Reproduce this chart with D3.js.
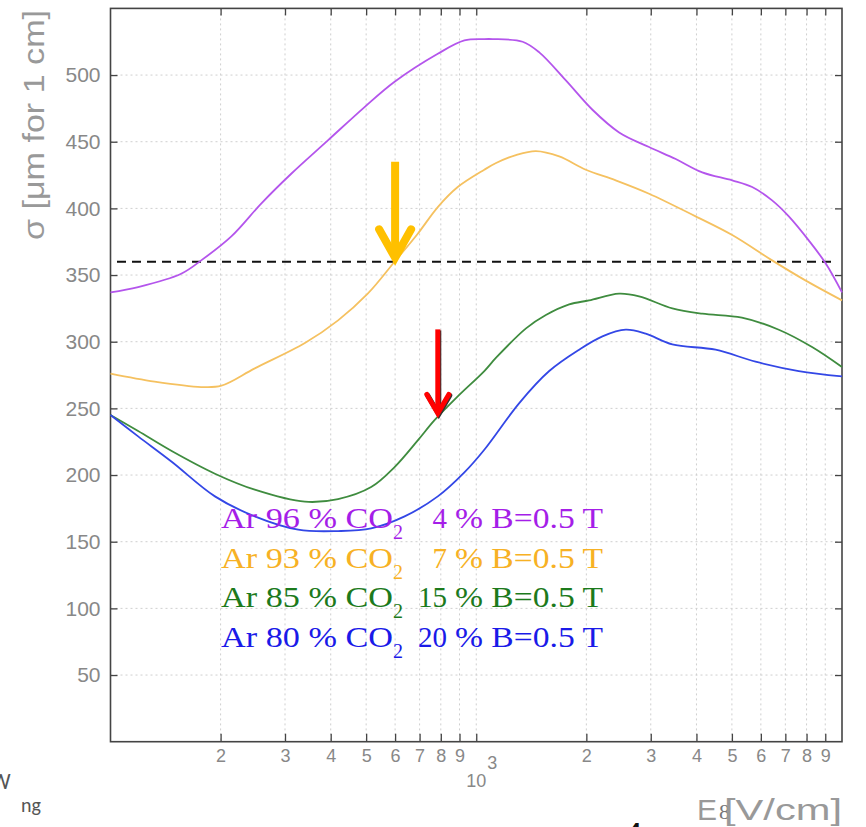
<!DOCTYPE html>
<html>
<head>
<meta charset="utf-8">
<script src="https://cdn.jsdelivr.net/npm/d3@7"></script>
<style>
body { margin: 0; background: #fff; }
svg { display: block; }
</style>
</head>
<body>
<svg width="866" height="827"></svg>
<script>
// curves: drift field E [V/cm] -> sigma [um for 1 cm]
var ar96Field = [100,119,156,177,214,259,312,393,495,598,785,928,1052,1109,1339,1487,1758,2078,2458,2968,3511,4148,5010,5680,6440,7154,8110,9010,10000]
var ar96Sigma = [337,341,351,361,379,404,426,451,476,495,516,526,527,527,525,517,496,474,457,446,437,427,421,416,406,394,376,359,337]

var ar93Field = [100,132,177,201,248,340,419,505,598,692,785,890,1052,1133,1284,1456,1686,1994,2407,2968,3980,5010,6440,7940,10000]
var ar93Sigma = [276,270,266,267,280,299,316,336,360,381,401,416,429,434,440,443,439,429,421,411,394,380,361,346,331]

var ar85Field = [100,119,147,193,248,340,419,516,598,692,768,890,1052,1133,1368,1550,1795,2035,2458,2788,3436,4148,5323,6718,8283,10000]
var ar85Sigma = [245,233,218,201,189,180,182,191,206,226,241,259,278,288,310,320,328,331,336,334,325,321,318,309,296,281]

var ar80Field = [100,119,147,193,248,326,419,516,637,785,928,1052,1311,1583,1911,2213,2564,2906,3436,4513,5803,7617,10000]
var ar80Sigma = [245,229,210,184,169,159,158,160,169,184,202,219,254,278,294,304,309,306,298,294,285,278,274]

var threshold = 360
var arPercent = ["96","93","85","80"]
var co2Percent = ["4","7","15","20"]
var lineColors = ["#b455ec","#f5c160","#3f8c3f","#3347e6"]
var textColors = ["#a51ee8","#f7b124","#1c7a1c","#1a1ae8"]

var xTicks = [200,300,400,500,600,700,800,900,1000,2000,3000,4000,5000,6000,7000,8000,9000]
var yTicks = [50,100,150,200,250,300,350,400,450,500]

var plotL = 110.5, plotR = 842, plotT = 8.4, plotB = 741.7

var xs = d3.scaleLog().domain([100,10000]).range([plotL,plotR])
var ys = d3.scaleLinear().domain([0,550]).range([plotB,plotT])

var svg = d3.select("svg")
svg.append("rect").attr("width",866).attr("height",827).attr("fill","#fff")

// dotted grid
svg.append("g").selectAll("line").data(xTicks).enter().append("line")
    .attr("x1",d => xs(d)).attr("x2",d => xs(d)).attr("y1",plotT).attr("y2",plotB)
    .attr("stroke","#cfcfcf").attr("stroke-dasharray","2,3")
svg.append("g").selectAll("line").data(yTicks).enter().append("line")
    .attr("x1",plotL).attr("x2",plotR).attr("y1",d => ys(d)).attr("y2",d => ys(d))
    .attr("stroke","#cfcfcf").attr("stroke-dasharray","2,3")

var tickFont = "'Liberation Sans', Arial, sans-serif"

// axes, ticks pointing inward
var xb = svg.append("g").attr("transform","translate(0,"+plotB+")")
    .call(d3.axisBottom(xs).tickValues(xTicks).tickSize(-8).tickPadding(8)
        .tickFormat(d => d == 1000 ? "" : String(d / Math.pow(10, Math.floor(Math.log10(d) + 1e-9)))))
var xt = svg.append("g").attr("transform","translate(0,"+plotT+")")
    .call(d3.axisTop(xs).tickValues(xTicks).tickSize(-7).tickFormat(""))
var yl = svg.append("g").attr("transform","translate("+plotL+",0)")
    .call(d3.axisLeft(ys).tickValues(yTicks).tickSize(-7).tickPadding(10))
var yr = svg.append("g").attr("transform","translate("+plotR+",0)")
    .call(d3.axisRight(ys).tickValues(yTicks).tickSize(-7).tickFormat(""))

svg.selectAll(".domain").remove()
svg.selectAll(".tick line").attr("stroke","#444").attr("stroke-width",1.3)
xb.selectAll("text").attr("font-family",tickFont).attr("font-size",18).attr("fill","#888")
yl.selectAll("text").attr("font-family",tickFont).attr("font-size",21).attr("fill","#888")

// 10^3 label
svg.append("text").attr("x",xs(1000)).attr("y",787).attr("text-anchor","middle")
    .attr("font-family",tickFont).attr("font-size",18).attr("fill","#888").text("10")
svg.append("text").attr("x",xs(1000)+11).attr("y",769)
    .attr("font-family",tickFont).attr("font-size",18).attr("fill","#888").text("3")

// frame
svg.append("rect").attr("x",plotL).attr("y",plotT).attr("width",plotR-plotL).attr("height",plotB-plotT)
    .attr("fill","none").attr("stroke","#444").attr("stroke-width",1.6)

// axis titles
svg.append("text").attr("transform","translate(44,10) rotate(-90)")
    .attr("text-anchor","end").attr("font-family",tickFont).attr("font-size",30)
    .attr("fill","#999").attr("textLength",230).attr("lengthAdjust","spacingAndGlyphs")
    .text("σ [μm for 1 cm]")
svg.append("text").attr("x",697).attr("y",820).attr("font-family",tickFont).attr("font-size",30)
    .attr("fill","#999").text("E")
svg.append("text").attr("x",719).attr("y",819).attr("font-family","'Liberation Serif', serif").attr("font-size",22)
    .attr("fill","#777").text("8")
svg.append("text").attr("x",842).attr("y",820).attr("text-anchor","end").attr("font-family",tickFont)
    .attr("font-size",30).attr("fill","#999").attr("textLength",118).attr("lengthAdjust","spacingAndGlyphs")
    .text("[V/cm]")

// threshold
svg.append("line").attr("x1",117).attr("x2",837).attr("y1",ys(threshold)).attr("y2",ys(threshold))
    .attr("stroke","#111").attr("stroke-width",2).attr("stroke-dasharray","9,6")

// curves
var line = d3.line().x(d => xs(d[0])).y(d => ys(d[1])).curve(d3.curveCatmullRom.alpha(0.5))
var series = [[ar96Field,ar96Sigma],[ar93Field,ar93Sigma],[ar85Field,ar85Sigma],[ar80Field,ar80Sigma]]
series.forEach(function(s,i){
    svg.append("path").datum(d3.zip(s[0],s[1])).attr("d",line)
        .attr("fill","none").attr("stroke",lineColors[i]).attr("stroke-width",1.8)
})

// arrows
function arrow(tx, ty, len, head, w, color){
    var g = svg.append("g").attr("stroke",color).attr("stroke-width",w).attr("fill","none")
    g.append("line").attr("x1",tx).attr("x2",tx).attr("y1",ty-len).attr("y2",ty-3)
    g.append("path").attr("d","M"+(tx-head)+","+(ty-head*1.9)+"L"+tx+","+(ty-2)+"L"+(tx+head)+","+(ty-head*1.9))
        .attr("stroke-linecap","round").attr("stroke-linejoin","miter")
}
arrow(xs(600), ys(threshold)-2, 98, 16, 8, "#ffc000")
arrow(xs(785)+1, ys(241)-4, 86, 11, 5, "#333")
arrow(xs(785), ys(241)-5, 86, 11, 5, "#ff0000")

// legend
var serif = "'Liberation Serif', 'Times New Roman', serif"
var baselines = [528, 568, 607, 647]
arPercent.forEach(function(a,i){
    var g = svg.append("g").attr("font-family",serif).attr("fill",textColors[i]).attr("font-size",29)
    g.append("text").attr("x",221).attr("y",baselines[i]).attr("textLength",172)
        .attr("lengthAdjust","spacingAndGlyphs").text("Ar " + a + " % CO")
    g.append("text").attr("x",393).attr("y",baselines[i]+11).attr("font-size",20).text("2")
    g.append("text").attr("x",447).attr("y",baselines[i]).attr("text-anchor","end").text(co2Percent[i])
    g.append("text").attr("x",455).attr("y",baselines[i]).attr("textLength",148)
        .attr("lengthAdjust","spacingAndGlyphs").text("% B=0.5 T")
})

// slide fragments
svg.append("text").attr("x",-9).attr("y",789).attr("font-family","Carlito, 'Liberation Sans', sans-serif")
    .attr("font-size",22).attr("fill","#555").text("W")
svg.append("text").attr("x",21).attr("y",812).attr("font-family","Carlito, 'Liberation Sans', sans-serif")
    .attr("font-size",20).attr("fill","#555").text("ng")
svg.append("text").attr("x",624).attr("y",846).attr("font-family","'Liberation Sans', sans-serif")
    .attr("font-size",34).attr("fill","#111").text("4")
</script>
</body>
</html>
